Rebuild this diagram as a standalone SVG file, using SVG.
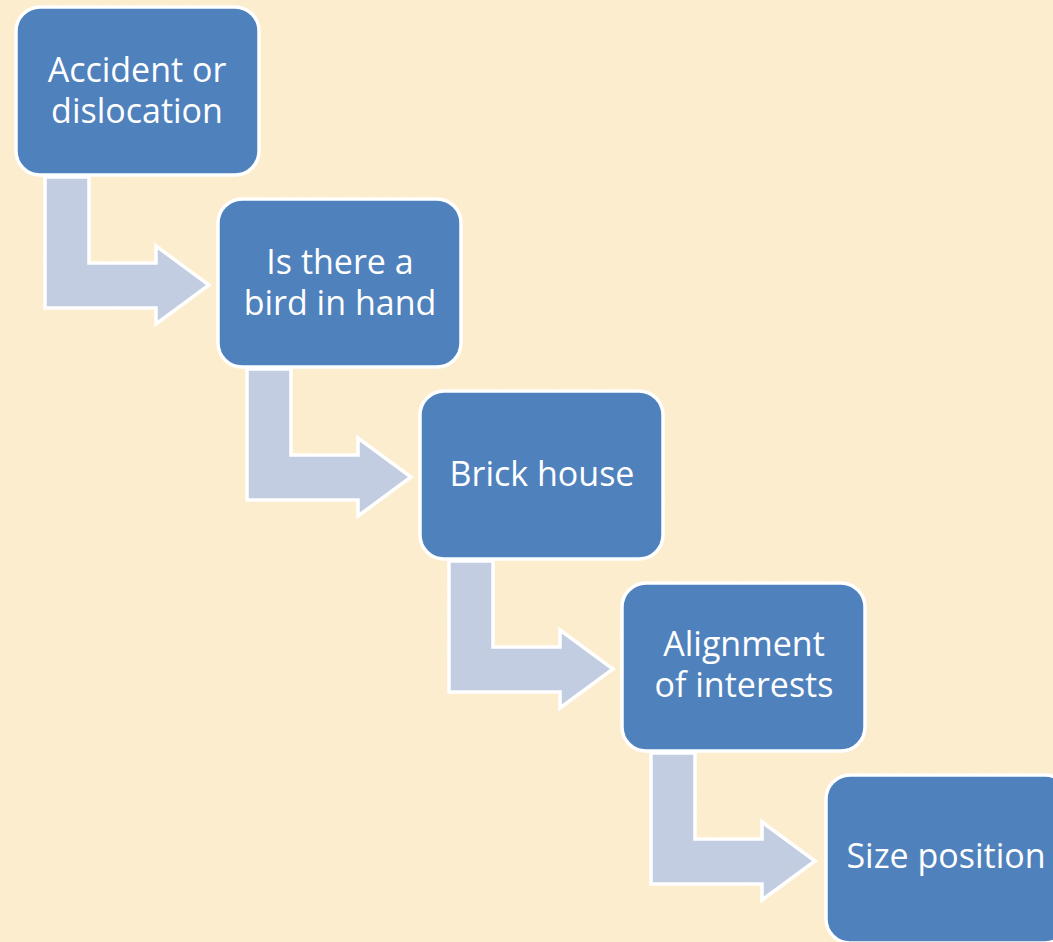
<svg xmlns="http://www.w3.org/2000/svg" xmlns:xlink="http://www.w3.org/1999/xlink" width="1053" height="942" viewBox="0 0 1053 942">
<style>
.node{fill:#4F81BD;stroke:#FFFFFF;stroke-width:3.5}
.arrow{fill:#C3CDE2;stroke:#FFFFFF;stroke-width:3.5;stroke-linejoin:miter}
.lbl{fill:#FFFFFF;font-family:"Open Sans","Noto Sans","DejaVu Sans",sans-serif;font-size:34px;text-anchor:middle}
</style>
<defs>
<filter id="tex" x="0" y="0" width="100%" height="100%">
<feTurbulence type="fractalNoise" baseFrequency="0.03" numOctaves="3" seed="4" result="n"/>
<feColorMatrix in="n" type="matrix" values="0 0 0 0 0.96  0 0 0 0 0.86  0 0 0 0 0.66  0 0 0 1.2 -0.5" result="c"/>
<feComposite in="c" in2="SourceGraphic" operator="in"/>
</filter>
<path id="bent" class="arrow" d="M45,177 L89,177 L89,263 L156,263 L156,246 L209,285 L156,324 L156,308 L45,308 Z"/>
</defs>
<rect width="1053" height="942" fill="#FCEDCE"/>
<rect width="1053" height="942" fill="#FFFFFF" filter="url(#tex)" opacity="0.35"/>
<g id="connectors">
<use xlink:href="#bent"/>
<use xlink:href="#bent" transform="translate(202,192)"/>
<use xlink:href="#bent" transform="translate(404,384)"/>
<use xlink:href="#bent" transform="translate(606,576)"/>
</g>
<g id="node1">
<rect class="node" x="16" y="7" width="243" height="168" rx="24"/>
<text class="lbl" x="137" y="82">Accident or</text>
<text class="lbl" x="137" y="123">dislocation</text>
</g>
<g id="node2">
<rect class="node" x="218" y="199" width="243" height="168" rx="24"/>
<text class="lbl" x="340" y="274">Is there a</text>
<text class="lbl" x="340" y="315">bird in hand</text>
</g>
<g id="node3">
<rect class="node" x="420" y="391" width="243" height="168" rx="24"/>
<text class="lbl" x="542" y="486">Brick house</text>
</g>
<g id="node4">
<rect class="node" x="622" y="583" width="243" height="168" rx="24"/>
<text class="lbl" x="744" y="656">Alignment</text>
<text class="lbl" x="744" y="697">of interests</text>
</g>
<g id="node5">
<rect class="node" x="826" y="775" width="243" height="168" rx="24"/>
<text class="lbl" x="946" y="868">Size position</text>
</g>
</svg>
